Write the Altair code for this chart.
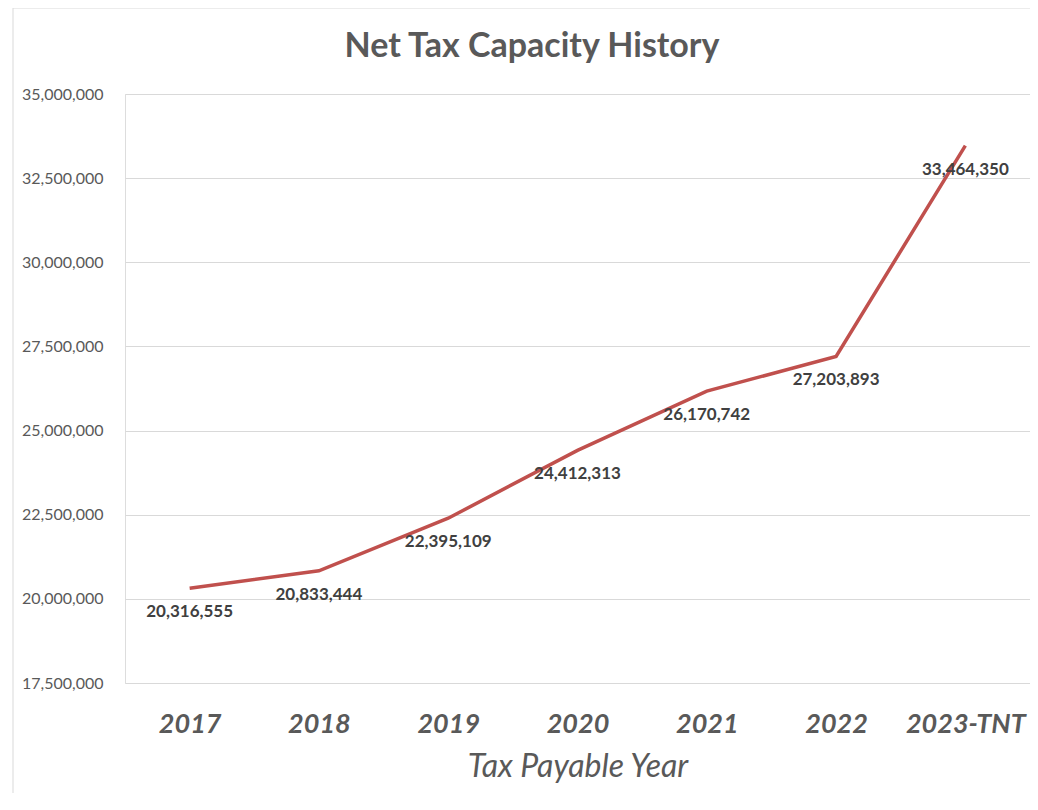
import altair as alt
import pandas as pd

years = ["2017", "2018", "2019", "2020", "2021", "2022", "2023-TNT"]
values = [20316555, 20833444, 22395109, 24412313, 26170742, 27203893, 33464350]
y_ticks = [17500000, 20000000, 22500000, 25000000, 27500000, 30000000, 32500000, 35000000]
title_text = "Net Tax Capacity History"

df = pd.DataFrame({"year": years, "value": values})

FONT = "Lato"
GREY = "#595959"

x_enc = alt.X(
    "year:N", sort=years, title="Tax Payable Year",
    axis=alt.Axis(labelAngle=0, domain=False, ticks=False, grid=False,
                  labelFont=FONT, labelFontSize=27, labelFontStyle="italic",
                  labelFontWeight="bold", labelColor=GREY, labelPadding=28,
                  titleFont=FONT, titleFontSize=32, titleFontStyle="italic",
                  titleFontWeight="normal", titleColor=GREY, titlePadding=14),
)
y_enc = alt.Y(
    "value:Q", title=None,
    scale=alt.Scale(domain=[17500000, 35000000], nice=False, zero=False),
    axis=alt.Axis(values=y_ticks, format=",d", domain=False, ticks=False, tickSize=0,
                  grid=True, gridColor="#d9d9d9", gridWidth=1,
                  labelFont=FONT, labelFontSize=16, labelColor=GREY, labelPadding=22),
)

line = alt.Chart(df).mark_line(color="#C0504D", strokeWidth=3.5).encode(x=x_enc, y=y_enc)
labels = alt.Chart(df).mark_text(
    font=FONT, fontSize=17, fontWeight="bold", color="#404040", dy=24, align="center"
).encode(x=alt.X("year:N", sort=years), y="value:Q", text=alt.Text("value:Q", format=",d"))

one = alt.Data(values=[{"k": 1}])
left_border = alt.Chart(one).mark_rule(color="#d9d9d9", strokeWidth=1).encode(
    x=alt.value(-112), y=alt.value(-86), y2=alt.value(720))
top_border = alt.Chart(one).mark_rule(color="#d9d9d9", strokeWidth=1).encode(
    x=alt.value(-112), x2=alt.value(905), y=alt.value(-86))
title = alt.Chart(one).mark_text(
    font=FONT, fontSize=34, fontWeight="bold", color=GREY, align="center", baseline="middle"
).encode(x=alt.value(407), y=alt.value(-47), text=alt.value(title_text))

chart = alt.layer(left_border, top_border, title, line, labels).properties(
    width=905, height=589,
    autosize=alt.AutoSizeParams(type="none"),
    padding={"left": 117, "top": 86, "right": 0, "bottom": 110},
).configure_view(strokeWidth=0).configure(background="white")

chart.save("out.html", embed_options={"renderer": "svg", "actions": False})
